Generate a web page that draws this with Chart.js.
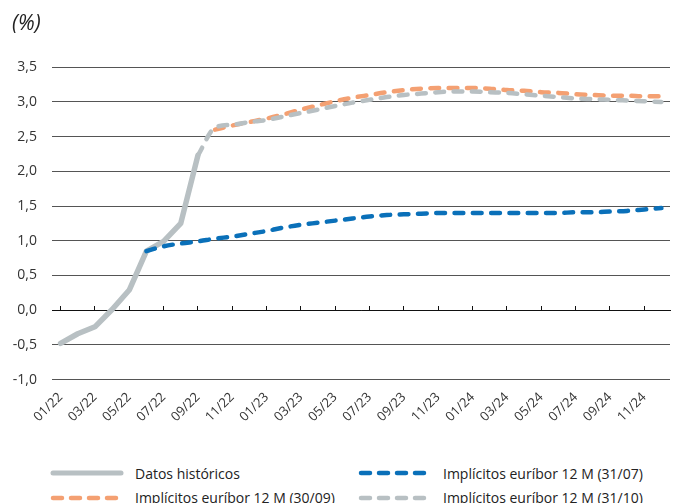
<!DOCTYPE html>
<html lang="es">
<head>
<meta charset="utf-8">
<script src="https://cdn.jsdelivr.net/npm/chart.js@4/dist/chart.umd.min.js"></script>
<style>
  html, body { margin: 0; padding: 0; background: #fff; }
  #wrap { position: relative; width: 683px; height: 503px; font-family: "Open Sans", sans-serif; }
  #box { position: absolute; left: 0; top: 0; width: 683px; height: 456px; }
  #legend { position: absolute; left: 50px; top: 464px; width: 630px;
            display: grid; grid-template-columns: 308px 320px; row-gap: 6.5px;
            font-size: 14px; color: #222; }
  .item { display: flex; align-items: center; height: 18px; white-space: nowrap; }
  .item svg { margin-right: 11px; flex: none; }
</style>
</head>
<body>
<div id="wrap">
  <div id="box"><canvas id="c"></canvas></div>
  <div id="legend"></div>
</div>
<script>
// Months January 2022 - December 2024
const months = [
  '01/22','02/22','03/22','04/22','05/22','06/22','07/22','08/22','09/22','10/22','11/22','12/22',
  '01/23','02/23','03/23','04/23','05/23','06/23','07/23','08/23','09/23','10/23','11/23','12/23',
  '01/24','02/24','03/24','04/24','05/24','06/24','07/24','08/24','09/24','10/24','11/24','12/24'
];

// Y axis ticks (%)
const yTicks = [-1.0, -0.5, 0.0, 0.5, 1.0, 1.5, 2.0, 2.5, 3.0, 3.5];

// Monthly Euribor 12M average (historical)
const historico = [-0.48, -0.34, -0.24, 0.01, 0.29, 0.85, 0.99, 1.25, 2.23,
  null, null, null, null, null, null, null, null, null, null, null, null, null, null, null,
  null, null, null, null, null, null, null, null, null, null, null, null];

// Market-implied Euribor 12M, curve of 31/07
const impl3107 = [null, null, null, null, null, 0.85, 0.92, 0.96, 0.99, 1.03, 1.06, 1.10,
  1.14, 1.19, 1.23, 1.26, 1.29, 1.32, 1.35, 1.37, 1.38, 1.39, 1.40, 1.40,
  1.40, 1.40, 1.40, 1.40, 1.40, 1.40, 1.41, 1.41, 1.42, 1.43, 1.45, 1.47];

// Market-implied Euribor 12M, curve of 30/09
const impl3009 = [null, null, null, null, null, null, null, null, null, 2.60, 2.66, 2.71,
  2.76, 2.82, 2.89, 2.95, 3.01, 3.06, 3.10, 3.14, 3.17, 3.19, 3.20, 3.20,
  3.20, 3.19, 3.17, 3.16, 3.14, 3.13, 3.11, 3.10, 3.09, 3.09, 3.08, 3.08];

// Market-implied Euribor 12M, curve of 31/10
const impl3110 = [null, null, null, null, null, null, null, null, 2.23, 2.63, 2.67, 2.71,
  2.74, 2.79, 2.84, 2.89, 2.94, 2.99, 3.03, 3.07, 3.10, 3.12, 3.14, 3.15,
  3.15, 3.14, 3.13, 3.11, 3.09, 3.07, 3.05, 3.04, 3.03, 3.02, 3.01, 3.00];

const GREY = '#b8c0c3';
const BLUE = '#0a70b9';
const ORANGE = '#f4a072';
const DASH = [8.8, 9.5];

const datasets = [
  { label: 'Datos históricos', data: historico, borderColor: GREY, borderWidth: 5.5,
    tension: 0, order: 4, legendDash: null },
  { label: 'Implícitos euríbor 12 M (31/07)', data: impl3107, borderColor: BLUE, borderWidth: 4.5,
    borderDash: DASH, cubicInterpolationMode: 'monotone', order: 1, legendDash: true },
  { label: 'Implícitos euríbor 12 M (30/09)', data: impl3009, borderColor: ORANGE, borderWidth: 4.5,
    borderDash: DASH, cubicInterpolationMode: 'monotone', order: 3, legendDash: true },
  { label: 'Implícitos euríbor 12 M (31/10)', data: impl3110, borderColor: GREY, borderWidth: 4.5,
    borderDash: DASH, cubicInterpolationMode: 'monotone', order: 2, legendDash: true }
];
datasets.forEach(d => {
  d.pointRadius = 0; d.pointHoverRadius = 0; d.fill = false;
  d.borderCapStyle = 'round'; d.borderJoinStyle = 'round'; d.spanGaps = false;
});

const fmt = v => v.toFixed(1).replace('.', ',');

const chart = new Chart(document.getElementById('c'), {
  type: 'line',
  data: { labels: months, datasets },
  options: {
    responsive: true,
    maintainAspectRatio: false,
    animation: false,
    layout: { autoPadding: false, padding: { left: 12, right: 13, top: 0, bottom: 21 } },
    plugins: {
      legend: { display: false },
      tooltip: { enabled: false },
      title: {
        display: true, text: '(%)', align: 'start', color: '#222',
        font: { family: 'Open Sans', size: 21, style: 'italic', weight: 'normal' },
        padding: { top: 11, bottom: 31 }
      }
    },
    scales: {
      x: {
        type: 'category', position: 'bottom', offset: true,
        grid: { display: false, drawTicks: false },
        border: { display: false },
        ticks: {
          autoSkip: false, maxRotation: 45, minRotation: 45, padding: 10,
          color: '#333', font: { family: 'Open Sans', size: 13 },
          callback: (v, i) => (i % 2 === 0 ? months[i] : '')
        }
      },
      x0: {
        type: 'category', position: { y: 0 }, offset: true,
        grid: {
          drawOnChartArea: false, drawTicks: true, tickLength: -5, lineWidth: 1,
          color: ctx => (ctx.index === undefined || ctx.index % 2 === 0) ? '#111' : 'rgba(0,0,0,0)'
        },
        border: { display: true, color: '#111', width: 1 },
        ticks: { display: false }
      },
      y: {
        min: yTicks[0], max: yTicks[yTicks.length - 1],
        afterBuildTicks: axis => { axis.ticks = yTicks.map(v => ({ value: v })); },
        afterFit: axis => { axis.width = 40; },
        grid: { color: '#555', lineWidth: 1, drawTicks: false },
        border: { display: false },
        ticks: {
          padding: 15, color: '#333', font: { family: 'Open Sans', size: 14 },
          callback: v => fmt(v)
        }
      }
    }
  }
});

// Legend built from the chart's datasets
const legend = document.getElementById('legend');
const legendOrder = [0, 1, 2, 3];
legendOrder.forEach(i => {
  const ds = chart.data.datasets[i];
  const item = document.createElement('div');
  item.className = 'item';
  const ns = 'http://www.w3.org/2000/svg';
  const svg = document.createElementNS(ns, 'svg');
  svg.setAttribute('width', '74'); svg.setAttribute('height', '8');
  const ln = document.createElementNS(ns, 'line');
  ln.setAttribute('x1', '3'); ln.setAttribute('x2', ds.legendDash ? '67' : '71');
  ln.setAttribute('y1', '4'); ln.setAttribute('y2', '4');
  ln.setAttribute('stroke', ds.borderColor);
  ln.setAttribute('stroke-width', ds.legendDash ? '4.5' : '5');
  ln.setAttribute('stroke-linecap', 'round');
  if (ds.legendDash) ln.setAttribute('stroke-dasharray', '9 9');
  svg.appendChild(ln);
  item.appendChild(svg);
  const t = document.createElement('span');
  t.textContent = ds.label;
  item.appendChild(t);
  legend.appendChild(item);
});
</script>
</body>
</html>
